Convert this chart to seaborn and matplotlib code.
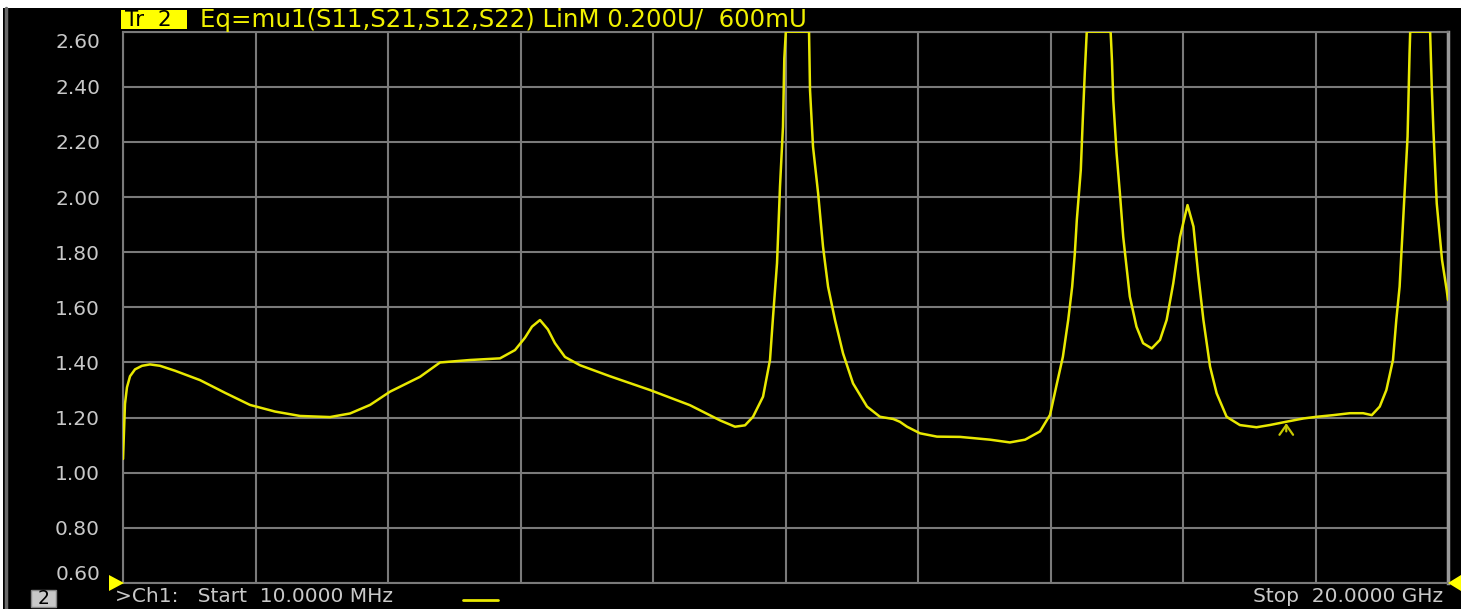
import numpy as np
import pandas as pd
import matplotlib
matplotlib.use("Agg")
import matplotlib.pyplot as plt
import matplotlib.transforms as mtransforms
from matplotlib.patches import Rectangle, Polygon
import seaborn as sns

# ---- data (frequency in GHz, mu1 stability factor, LinM) ----
freq_ghz = [0.01, 0.025, 0.04, 0.07, 0.116, 0.191, 0.297, 0.417, 0.568, 0.795,
            1.172, 1.549, 1.926, 2.303, 2.680, 3.133, 3.435, 3.737, 4.038, 4.491,
            4.793, 5.245, 5.698, 5.924, 6.075, 6.18, 6.301, 6.42, 6.527, 6.678,
            6.905, 7.357, 7.961, 8.564, 9.017, 9.243, 9.394, 9.515, 9.666, 9.771,
            9.817, 9.877, 9.922, 9.967, 9.987, 10.01, 10.36, 10.375, 10.42, 10.497,
            10.571, 10.647, 10.752, 10.873, 11.024, 11.235, 11.43, 11.63, 11.73, 11.838,
            12.035, 12.29, 12.64, 13.09, 13.39, 13.62, 13.845, 13.996, 14.10, 14.19,
            14.27, 14.33, 14.37, 14.40, 14.46, 14.49, 14.52, 14.55, 14.91, 14.93,
            14.95, 15.00, 15.05, 15.10, 15.15, 15.20, 15.30, 15.40, 15.53, 15.655,
            15.755, 15.855, 15.957, 16.07, 16.16, 16.23, 16.31, 16.41, 16.51, 16.66,
            16.86, 17.11, 17.31, 17.56, 17.82, 18.02, 18.27, 18.52, 18.72, 18.85,
            18.97, 19.07, 19.17, 19.22, 19.27, 19.31, 19.35, 19.39, 19.42, 19.43,
            19.73, 19.755, 19.78, 19.83, 19.91, 19.98, 20.0]
mu1_vals = [1.05, 1.15, 1.25, 1.31, 1.35, 1.375, 1.388, 1.393, 1.388, 1.37,
            1.336, 1.29, 1.246, 1.222, 1.206, 1.202, 1.215, 1.246, 1.294, 1.348,
            1.40, 1.409, 1.415, 1.445, 1.49, 1.53, 1.554, 1.52, 1.47, 1.42,
            1.39, 1.35, 1.30, 1.245, 1.19, 1.167, 1.172, 1.203, 1.276, 1.409,
            1.566, 1.76, 2.038, 2.255, 2.503, 2.60, 2.60, 2.388, 2.183, 2.014,
            1.82, 1.675, 1.554, 1.433, 1.324, 1.24, 1.203, 1.195, 1.185, 1.167,
            1.143, 1.131, 1.13, 1.12, 1.11, 1.12, 1.15, 1.21, 1.324, 1.421,
            1.554, 1.675, 1.796, 1.917, 2.098, 2.28, 2.449, 2.60, 2.60, 2.497,
            2.352, 2.159, 2.014, 1.856, 1.747, 1.639, 1.53, 1.47, 1.451, 1.482,
            1.554, 1.687, 1.856, 1.971, 1.893, 1.723, 1.554, 1.385, 1.288, 1.203,
            1.173, 1.165, 1.173, 1.185, 1.197, 1.203, 1.209, 1.216, 1.216, 1.209,
            1.24, 1.30, 1.409, 1.554, 1.675, 1.856, 2.038, 2.219, 2.522, 2.60,
            2.60, 2.40, 2.243, 1.977, 1.772, 1.663, 1.627]

y_ticks = [0.60, 0.80, 1.00, 1.20, 1.40, 1.60, 1.80, 2.00, 2.20, 2.40, 2.60]
y_tick_labels = ["0.60", "0.80", "1.00", "1.20", "1.40", "1.60", "1.80",
                 "2.00", "2.20", "2.40", "2.60"]
start_ghz = 0.01
stop_ghz = 20.0
marker_ghz = 17.56
marker_val = 1.19

title_tr = "Tr  2"
title_eq = "Eq=mu1(S11,S21,S12,S22) LinM 0.200U/  600mU"
footer_ch = ">Ch1:   Start  10.0000 MHz"
footer_stop = "Stop  20.0000 GHz"
footer_num = "2"

df = pd.DataFrame({"freq": freq_ghz, "mu1": mu1_vals})

# ---- style ----
sns.set_style("dark")
plt.rcParams["font.family"] = ["DejaVu Sans"]

W, H = 1467, 609
fig = plt.figure(figsize=(W / 100, H / 100), dpi=100, facecolor="white")

def fx(px):
    return px / W

def fy(py):
    return 1 - py / H

# black instrument screen
fig.patches.append(Rectangle((fx(3), 0), fx(1461) - fx(3), fy(8), transform=fig.transFigure,
                             facecolor="black", edgecolor="none", zorder=-10))
fig.lines.append(plt.Line2D([fx(6), fx(6)], [0, fy(8)], transform=fig.transFigure,
                            color="#6a6a6a", lw=2.5, zorder=-5))

left, right, top, bottom = 123, 1448, 31.7, 583
ax = fig.add_axes([fx(left), fy(bottom), fx(right) - fx(left), fy(top) - fy(bottom)])
ax.set_zorder(1)
ax.set_facecolor("black")

grid_col = "#7a7a7a"
sns.lineplot(data=df, x="freq", y="mu1", ax=ax, color="#e8e800", lw=1.8, zorder=5,
             estimator=None, sort=False)

ax.set_xlim(start_ghz, stop_ghz)
ax.set_ylim(0.6, 2.6)
ax.set_xticks(np.linspace(start_ghz, stop_ghz, 11))
ax.set_xticklabels([])
ax.set_yticks(y_ticks)
ax.set_yticklabels(y_tick_labels)
ax.tick_params(axis="both", length=0)
ax.tick_params(axis="y", colors="#c8c8c8", labelsize=14.5, pad=16.5)
ax.grid(True, color=grid_col, lw=1.5)
ax.set_axisbelow(True)
for s in ax.spines.values():
    s.set_visible(True)
    s.set_color(grid_col)
    s.set_linewidth(1.5)
ax.spines["right"].set_color("#9a9a9a")
ax.spines["right"].set_linewidth(2.5)
ax.set_xlabel("")
ax.set_ylabel("")

# keep the extreme labels inside the screen like the instrument does
labels = ax.get_yticklabels()
labels[-1].set_transform(labels[-1].get_transform() +
                         mtransforms.ScaledTranslation(0, -9 / 100, fig.dpi_scale_trans))
labels[0].set_transform(labels[0].get_transform() +
                        mtransforms.ScaledTranslation(0, 10 / 100, fig.dpi_scale_trans))

# marker arrow
ax.annotate("", xy=(marker_ghz, marker_val), xytext=(marker_ghz, marker_val - 0.05),
            arrowprops=dict(arrowstyle="->,head_length=0.5,head_width=0.35", color="#c8c800",
                            lw=1.6, mutation_scale=14), zorder=6)

# header
fig.patches.append(Rectangle((fx(121), fy(29)), fx(187) - fx(121), fy(10) - fy(29),
                             transform=fig.transFigure, facecolor="#ffff00",
                             edgecolor="none", zorder=2))
fig.text(fx(125), fy(20), title_tr, color="black", fontsize=15.5, va="center", ha="left", zorder=3)
fig.text(fx(200), fy(20), title_eq, color="#f0f000", fontsize=17.6, va="center", ha="left", zorder=3)

# footer
fig.patches.append(Rectangle((fx(31), fy(607)), fx(56) - fx(31), fy(590) - fy(607),
                             transform=fig.transFigure, facecolor="#c8c8c8",
                             edgecolor="#888888", lw=1, zorder=2))
fig.text(fx(43.5), fy(598.5), footer_num, color="black", fontsize=13.5, va="center", ha="center", zorder=3)
fig.text(fx(115), fy(596.5), footer_ch, color="#c8c8c8", fontsize=14.5, va="center", ha="left", zorder=3)
fig.lines.append(plt.Line2D([fx(463), fx(498)], [fy(600), fy(600)], transform=fig.transFigure,
                            color="#e8e800", lw=2, zorder=3))
fig.text(fx(1443), fy(596.5), footer_stop, color="#c8c8c8", fontsize=14.5, va="center", ha="right", zorder=3)

# reference triangles
fig.patches.append(Polygon([(fx(109), fy(575)), (fx(109), fy(591)), (fx(124), fy(583))],
                           closed=True, transform=fig.transFigure, facecolor="#ffff00",
                           edgecolor="none", zorder=3))
fig.patches.append(Polygon([(fx(1461), fy(575)), (fx(1461), fy(591)), (fx(1448), fy(583))],
                           closed=True, transform=fig.transFigure, facecolor="#ffff00",
                           edgecolor="none", zorder=3))

fig.savefig("out.png", dpi=100, facecolor=fig.get_facecolor())
